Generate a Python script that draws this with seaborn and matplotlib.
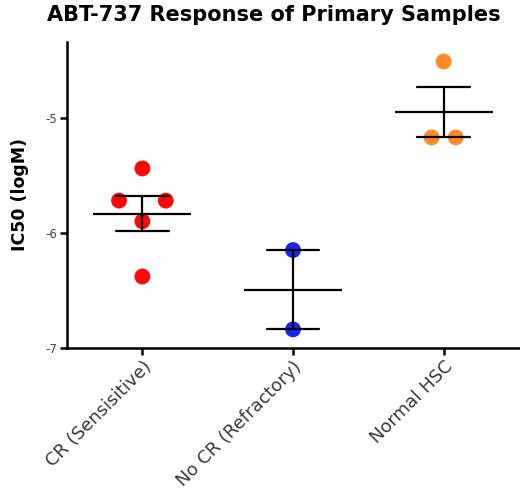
import pandas as pd
import numpy as np
import matplotlib.pyplot as plt
import seaborn as sns

# data
groups = ['CR (Sensisitive)', 'No CR (Refractory)', 'Normal HSC']
cr_vals = [-5.44, -5.72, -5.72, -5.90, -6.38]
nocr_vals = [-6.15, -6.84]
hsc_vals = [-4.51, -5.17, -5.17]
colors = ['#ff0505', '#1a24f0', '#ff8a26']
# horizontal spread for tied values (style only)
spread = [0.31, 0.2, 0.16]

df = pd.DataFrame({
    'group': [groups[0]] * len(cr_vals) + [groups[1]] * len(nocr_vals) + [groups[2]] * len(hsc_vals),
    'ic50': cr_vals + nocr_vals + hsc_vals,
})
# spread tied points symmetrically around the group centre, like a scatter dot plot
gi = df.group.map({g: i for i, g in enumerate(groups)})
dup = df.groupby(['group', 'ic50']).cumcount()
n = df.groupby(['group', 'ic50'])['ic50'].transform('size')
df['xpos'] = gi + (dup - (n - 1) / 2) * gi.map(lambda i: spread[i])

sns.set_style('ticks', {'axes.edgecolor': 'black', 'xtick.color': 'black',
                        'ytick.color': 'black', 'text.color': 'black'})
plt.rcParams['font.family'] = ['DejaVu Sans']

fig = plt.figure(figsize=(5.2, 4.94), dpi=100)
ax = fig.add_axes([0.129, 0.296, 0.869, 0.619])

sns.scatterplot(data=df, x='xpos', y='ic50', hue='group', hue_order=groups,
                palette=colors, s=130, linewidth=0, legend=False, ax=ax, zorder=1)

# mean line
sns.pointplot(data=df, x='group', y='ic50', order=groups, errorbar=None,
              color='black', marker='_', markersize=71, markeredgewidth=1.6,
              linestyle='none', ax=ax)
# SEM bars
sns.pointplot(data=df, x='group', y='ic50', order=groups, errorbar='se',
              capsize=0.35, err_kws={'linewidth': 1.6}, color='black',
              marker='', linestyle='none', ax=ax)
for ln in ax.lines:
    ln.set_zorder(3)

ax.set_xlim(-0.5, 2.5)
ax.set_ylim(-7, -4.34)
ax.set_yticks([-7, -6, -5])
ax.set_yticklabels(['-7', '-6', '-5'], fontsize=8.5, color='#444444')
ax.set_xticks(range(3))
ax.set_xticklabels(groups, rotation=45, ha='right', rotation_mode='anchor',
                   fontsize=13, color='#3a3a3a')
ax.tick_params(axis='both', width=1.8, length=5, pad=2)
ax.set_xlabel('')
ax.set_ylabel('IC50 (logM)', fontsize=12.5, fontweight='bold', labelpad=12,
              color='black')
for s in ['left', 'bottom']:
    ax.spines[s].set_linewidth(1.8)
sns.despine(ax=ax)

fig.suptitle('ABT-737 Response of Primary Samples', x=0.527, y=0.99,
             fontsize=15, fontweight='bold', color='black')

fig.savefig('out.png', dpi=100)
